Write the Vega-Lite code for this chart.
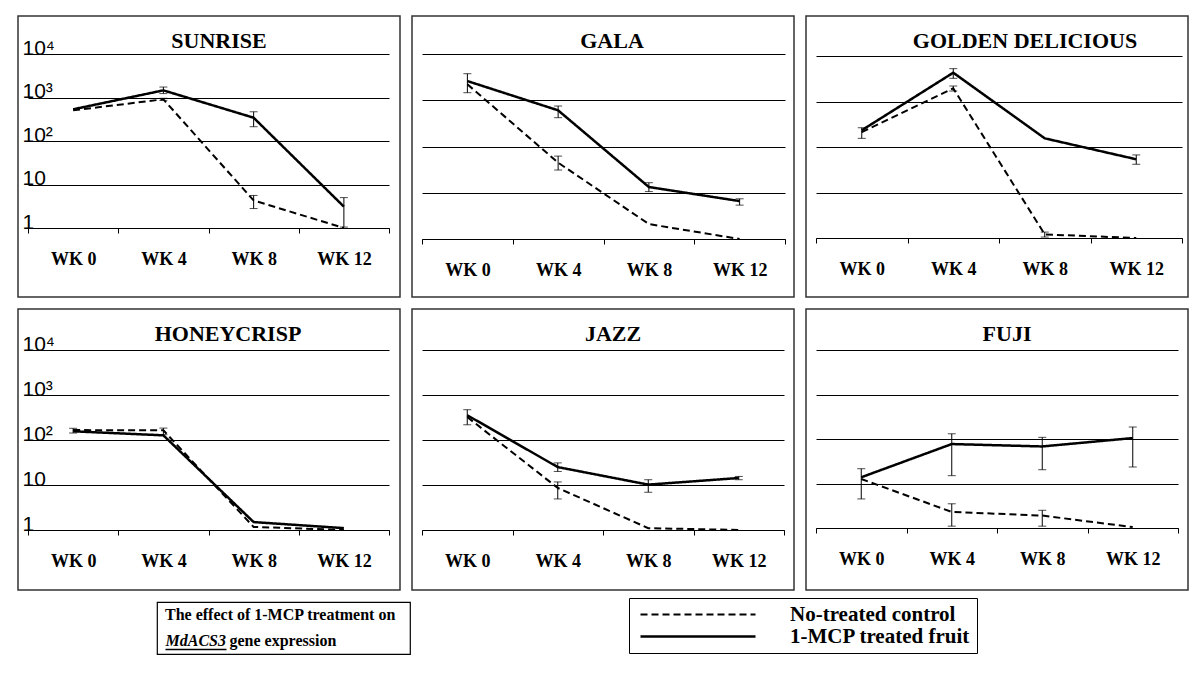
{
  "$schema": "https://vega.github.io/schema/vega-lite/v6.json",
  "padding": {"left": 17, "top": 15, "right": 5, "bottom": 5},
  "background": "white",
  "datasets": {
    "apple": [
      {"cultivar": "SUNRISE", "week": "WK 0", "series": "1-MCP treated fruit", "value": 535, "lo": null, "hi": null},
      {"cultivar": "SUNRISE", "week": "WK 4", "series": "1-MCP treated fruit", "value": 1460, "lo": 1230, "hi": 1740},
      {"cultivar": "SUNRISE", "week": "WK 8", "series": "1-MCP treated fruit", "value": 343, "lo": 213, "hi": 470},
      {"cultivar": "SUNRISE", "week": "WK 12", "series": "1-MCP treated fruit", "value": 3.1, "lo": 1.05, "hi": 5.0},
      {"cultivar": "SUNRISE", "week": "WK 0", "series": "No-treated control", "value": 507, "lo": null, "hi": null},
      {"cultivar": "SUNRISE", "week": "WK 4", "series": "No-treated control", "value": 910, "lo": 860, "hi": 960},
      {"cultivar": "SUNRISE", "week": "WK 8", "series": "No-treated control", "value": 4.3, "lo": 2.8, "hi": 5.6},
      {"cultivar": "SUNRISE", "week": "WK 12", "series": "No-treated control", "value": 1, "lo": null, "hi": null},

      {"cultivar": "GALA", "week": "WK 0", "series": "1-MCP treated fruit", "value": 2600, "lo": 1456, "hi": 3750},
      {"cultivar": "GALA", "week": "WK 4", "series": "1-MCP treated fruit", "value": 605, "lo": 420, "hi": 751},
      {"cultivar": "GALA", "week": "WK 8", "series": "1-MCP treated fruit", "value": 13.3, "lo": 10.6, "hi": 16.5},
      {"cultivar": "GALA", "week": "WK 12", "series": "1-MCP treated fruit", "value": 6.6, "lo": 5.4, "hi": 7.4},
      {"cultivar": "GALA", "week": "WK 0", "series": "No-treated control", "value": 2213, "lo": null, "hi": null},
      {"cultivar": "GALA", "week": "WK 4", "series": "No-treated control", "value": 44.7, "lo": 31, "hi": 62},
      {"cultivar": "GALA", "week": "WK 8", "series": "No-treated control", "value": 2.1, "lo": null, "hi": null},
      {"cultivar": "GALA", "week": "WK 12", "series": "No-treated control", "value": 1, "lo": null, "hi": null},

      {"cultivar": "GOLDEN DELICIOUS", "week": "WK 0", "series": "1-MCP treated fruit", "value": 233, "lo": 155, "hi": 265},
      {"cultivar": "GOLDEN DELICIOUS", "week": "WK 4", "series": "1-MCP treated fruit", "value": 4295, "lo": 3230, "hi": 5270},
      {"cultivar": "GOLDEN DELICIOUS", "week": "WK 8", "series": "1-MCP treated fruit", "value": 155, "lo": null, "hi": null},
      {"cultivar": "GOLDEN DELICIOUS", "week": "WK 12", "series": "1-MCP treated fruit", "value": 53.7, "lo": 41.7, "hi": 67},
      {"cultivar": "GOLDEN DELICIOUS", "week": "WK 0", "series": "No-treated control", "value": 213, "lo": null, "hi": null},
      {"cultivar": "GOLDEN DELICIOUS", "week": "WK 4", "series": "No-treated control", "value": 1950, "lo": 1700, "hi": 2190},
      {"cultivar": "GOLDEN DELICIOUS", "week": "WK 8", "series": "No-treated control", "value": 1.2, "lo": 1.05, "hi": 1.35},
      {"cultivar": "GOLDEN DELICIOUS", "week": "WK 12", "series": "No-treated control", "value": 1, "lo": null, "hi": null},

      {"cultivar": "HONEYCRISP", "week": "WK 0", "series": "1-MCP treated fruit", "value": 156, "lo": null, "hi": null},
      {"cultivar": "HONEYCRISP", "week": "WK 4", "series": "1-MCP treated fruit", "value": 127, "lo": null, "hi": null},
      {"cultivar": "HONEYCRISP", "week": "WK 8", "series": "1-MCP treated fruit", "value": 1.5, "lo": null, "hi": null},
      {"cultivar": "HONEYCRISP", "week": "WK 12", "series": "1-MCP treated fruit", "value": 1.1, "lo": null, "hi": null},
      {"cultivar": "HONEYCRISP", "week": "WK 0", "series": "No-treated control", "value": 166, "lo": 143, "hi": 182},
      {"cultivar": "HONEYCRISP", "week": "WK 4", "series": "No-treated control", "value": 164, "lo": 131, "hi": 184},
      {"cultivar": "HONEYCRISP", "week": "WK 8", "series": "No-treated control", "value": 1.17, "lo": null, "hi": null},
      {"cultivar": "HONEYCRISP", "week": "WK 12", "series": "No-treated control", "value": 1, "lo": null, "hi": null},

      {"cultivar": "JAZZ", "week": "WK 0", "series": "1-MCP treated fruit", "value": 355, "lo": 218, "hi": 471},
      {"cultivar": "JAZZ", "week": "WK 4", "series": "1-MCP treated fruit", "value": 25, "lo": 20, "hi": 31},
      {"cultivar": "JAZZ", "week": "WK 8", "series": "1-MCP treated fruit", "value": 10.2, "lo": 6.9, "hi": 13.1},
      {"cultivar": "JAZZ", "week": "WK 12", "series": "1-MCP treated fruit", "value": 14.3, "lo": 13.1, "hi": 15.5},
      {"cultivar": "JAZZ", "week": "WK 0", "series": "No-treated control", "value": 324, "lo": null, "hi": null},
      {"cultivar": "JAZZ", "week": "WK 4", "series": "No-treated control", "value": 8.6, "lo": 4.9, "hi": 11.7},
      {"cultivar": "JAZZ", "week": "WK 8", "series": "No-treated control", "value": 1.1, "lo": null, "hi": null},
      {"cultivar": "JAZZ", "week": "WK 12", "series": "No-treated control", "value": 1, "lo": null, "hi": null},

      {"cultivar": "FUJI", "week": "WK 0", "series": "1-MCP treated fruit", "value": 13.8, "lo": 4.5, "hi": 21.5},
      {"cultivar": "FUJI", "week": "WK 4", "series": "1-MCP treated fruit", "value": 77, "lo": 15, "hi": 131},
      {"cultivar": "FUJI", "week": "WK 8", "series": "1-MCP treated fruit", "value": 68, "lo": 20.4, "hi": 109},
      {"cultivar": "FUJI", "week": "WK 12", "series": "1-MCP treated fruit", "value": 105, "lo": 23.5, "hi": 186},
      {"cultivar": "FUJI", "week": "WK 0", "series": "No-treated control", "value": 12.6, "lo": null, "hi": null},
      {"cultivar": "FUJI", "week": "WK 4", "series": "No-treated control", "value": 2.3, "lo": 1.1, "hi": 3.5},
      {"cultivar": "FUJI", "week": "WK 8", "series": "No-treated control", "value": 1.9, "lo": 1.1, "hi": 2.5},
      {"cultivar": "FUJI", "week": "WK 12", "series": "No-treated control", "value": 1.05, "lo": null, "hi": null}
    ]
  },
  "data": {"name": "apple"},
  "spacing": 10,
  "resolve": {"scale": {"x": "independent", "y": "independent"}},
  "vconcat": [
    {
      "spacing": 10,
      "resolve": {"scale": {"x": "independent", "y": "independent"}},
      "hconcat": [
        {
          "width": 382, "height": 281,
          "title": {"text": "SUNRISE", "dx": 10},
          "transform": [{"filter": "datum.cultivar === 'SUNRISE'"}],
          "layer": [
            {
              "transform": [{"filter": "datum.lo != null"}],
              "mark": {"type": "errorbar", "ticks": true, "size": 8, "thickness": 1, "color": "black"},
              "encoding": {
                "x": {"field": "week", "type": "nominal", "sort": ["WK 0", "WK 4", "WK 8", "WK 12"], "scale": {"type": "band", "range": [10, 371], "paddingInner": 0, "paddingOuter": 0}},
                "y": {"field": "lo", "type": "quantitative", "scale": {"type": "log", "domain": [1, 10000], "range": [212, 38], "nice": false}},
                "y2": {"field": "hi"}
              }
            },
            {
              "mark": {"type": "line", "color": "black"},
              "encoding": {
                "x": {"field": "week", "type": "nominal", "sort": ["WK 0", "WK 4", "WK 8", "WK 12"], "scale": {"type": "band", "range": [10, 371], "paddingInner": 0, "paddingOuter": 0}, "axis": {"offset": -69, "title": null}},
                "y": {"field": "value", "type": "quantitative", "scale": {"type": "log", "domain": [1, 10000], "range": [212, 38], "nice": false}, "axis": {"title": null, "values": [1, 10, 100, 1000, 10000], "labels": true, "labelExpr": "datum.value >= 10000 ? '10⁴' : datum.value >= 1000 ? '10³' : datum.value >= 100 ? '10²' : datum.value >= 10 ? '10' : '1'"}},
                "strokeDash": {"field": "series", "type": "nominal", "title": null, "scale": {"domain": ["No-treated control", "1-MCP treated fruit"], "range": [[7, 4], [1, 0]]},
                  "legend": {"orient": "none", "legendX": 611, "legendY": 582, "title": null, "symbolType": "M-1,0H22", "symbolSize": 100, "symbolStrokeWidth": 2.5, "symbolStrokeColor": "black", "strokeColor": "black", "padding": 6, "labelFont": "Liberation Serif", "labelFontWeight": "bold", "labelFontSize": 21, "labelColor": "black", "labelOffset": 134, "labelLimit": 400, "rowPadding": 0}},
                "strokeWidth": {"field": "series", "type": "nominal", "scale": {"domain": ["No-treated control", "1-MCP treated fruit"], "range": [2, 2.5]}, "legend": null}
              }
            }
          ]
        },
        {
          "width": 382, "height": 281,
          "title": {"text": "GALA", "dx": 9},
          "transform": [{"filter": "datum.cultivar === 'GALA'"}],
          "layer": [
            {
              "transform": [{"filter": "datum.lo != null"}],
              "mark": {"type": "errorbar", "ticks": true, "size": 8, "thickness": 1, "color": "black"},
              "encoding": {
                "x": {"field": "week", "type": "nominal", "sort": ["WK 0", "WK 4", "WK 8", "WK 12"], "scale": {"type": "band", "range": [10, 373], "paddingInner": 0, "paddingOuter": 0}},
                "y": {"field": "lo", "type": "quantitative", "scale": {"type": "log", "domain": [1, 10000], "range": [223, 38], "nice": false}},
                "y2": {"field": "hi"}
              }
            },
            {
              "mark": {"type": "line", "color": "black"},
              "encoding": {
                "x": {"field": "week", "type": "nominal", "sort": ["WK 0", "WK 4", "WK 8", "WK 12"], "scale": {"type": "band", "range": [10, 373], "paddingInner": 0, "paddingOuter": 0}, "axis": {"offset": -58, "title": null}},
                "y": {"field": "value", "type": "quantitative", "scale": {"type": "log", "domain": [1, 10000], "range": [223, 38], "nice": false}, "axis": {"title": null, "values": [1, 10, 100, 1000, 10000], "labels": false}},
                "strokeDash": {"field": "series", "type": "nominal", "title": null, "scale": {"domain": ["No-treated control", "1-MCP treated fruit"], "range": [[7, 4], [1, 0]]}, "legend": null},
                "strokeWidth": {"field": "series", "type": "nominal", "scale": {"domain": ["No-treated control", "1-MCP treated fruit"], "range": [2, 2.5]}, "legend": null}
              }
            }
          ]
        },
        {
          "width": 382, "height": 281,
          "title": {"text": "GOLDEN DELICIOUS", "dx": 28},
          "transform": [{"filter": "datum.cultivar === 'GOLDEN DELICIOUS'"}],
          "layer": [
            {
              "transform": [{"filter": "datum.lo != null"}],
              "mark": {"type": "errorbar", "ticks": true, "size": 8, "thickness": 1, "color": "black"},
              "encoding": {
                "x": {"field": "week", "type": "nominal", "sort": ["WK 0", "WK 4", "WK 8", "WK 12"], "scale": {"type": "band", "range": [10, 376], "paddingInner": 0, "paddingOuter": 0}},
                "y": {"field": "lo", "type": "quantitative", "scale": {"type": "log", "domain": [1, 10000], "range": [222, 40], "nice": false}},
                "y2": {"field": "hi"}
              }
            },
            {
              "mark": {"type": "line", "color": "black"},
              "encoding": {
                "x": {"field": "week", "type": "nominal", "sort": ["WK 0", "WK 4", "WK 8", "WK 12"], "scale": {"type": "band", "range": [10, 376], "paddingInner": 0, "paddingOuter": 0}, "axis": {"offset": -59, "title": null}},
                "y": {"field": "value", "type": "quantitative", "scale": {"type": "log", "domain": [1, 10000], "range": [222, 40], "nice": false}, "axis": {"title": null, "values": [1, 10, 100, 1000, 10000], "labels": false}},
                "strokeDash": {"field": "series", "type": "nominal", "title": null, "scale": {"domain": ["No-treated control", "1-MCP treated fruit"], "range": [[7, 4], [1, 0]]}, "legend": null},
                "strokeWidth": {"field": "series", "type": "nominal", "scale": {"domain": ["No-treated control", "1-MCP treated fruit"], "range": [2, 2.5]}, "legend": null}
              }
            }
          ]
        }
      ]
    },
    {
      "spacing": 10,
      "resolve": {"scale": {"x": "independent", "y": "independent"}},
      "hconcat": [
        {
          "width": 382, "height": 281,
          "title": {"text": "HONEYCRISP", "dx": 19},
          "transform": [{"filter": "datum.cultivar === 'HONEYCRISP'"}],
          "layer": [
            {
              "transform": [{"filter": "datum.lo != null"}],
              "mark": {"type": "errorbar", "ticks": true, "size": 8, "thickness": 1, "color": "black"},
              "encoding": {
                "x": {"field": "week", "type": "nominal", "sort": ["WK 0", "WK 4", "WK 8", "WK 12"], "scale": {"type": "band", "range": [10, 371], "paddingInner": 0, "paddingOuter": 0}},
                "y": {"field": "lo", "type": "quantitative", "scale": {"type": "log", "domain": [1, 10000], "range": [221, 41], "nice": false}},
                "y2": {"field": "hi"}
              }
            },
            {
              "mark": {"type": "line", "color": "black"},
              "encoding": {
                "x": {"field": "week", "type": "nominal", "sort": ["WK 0", "WK 4", "WK 8", "WK 12"], "scale": {"type": "band", "range": [10, 371], "paddingInner": 0, "paddingOuter": 0}, "axis": {"offset": -60, "title": null}},
                "y": {"field": "value", "type": "quantitative", "scale": {"type": "log", "domain": [1, 10000], "range": [221, 41], "nice": false}, "axis": {"title": null, "values": [1, 10, 100, 1000, 10000], "labels": true, "labelExpr": "datum.value >= 10000 ? '10⁴' : datum.value >= 1000 ? '10³' : datum.value >= 100 ? '10²' : datum.value >= 10 ? '10' : '1'"}},
                "strokeDash": {"field": "series", "type": "nominal", "title": null, "scale": {"domain": ["No-treated control", "1-MCP treated fruit"], "range": [[7, 4], [1, 0]]}, "legend": null},
                "strokeWidth": {"field": "series", "type": "nominal", "scale": {"domain": ["No-treated control", "1-MCP treated fruit"], "range": [2, 2.5]}, "legend": null}
              }
            }
          ]
        },
        {
          "width": 382, "height": 281,
          "title": {"text": "JAZZ", "dx": 10},
          "transform": [{"filter": "datum.cultivar === 'JAZZ'"}],
          "layer": [
            {
              "transform": [{"filter": "datum.lo != null"}],
              "mark": {"type": "errorbar", "ticks": true, "size": 8, "thickness": 1, "color": "black"},
              "encoding": {
                "x": {"field": "week", "type": "nominal", "sort": ["WK 0", "WK 4", "WK 8", "WK 12"], "scale": {"type": "band", "range": [10, 372], "paddingInner": 0, "paddingOuter": 0}},
                "y": {"field": "lo", "type": "quantitative", "scale": {"type": "log", "domain": [1, 10000], "range": [221, 41], "nice": false}},
                "y2": {"field": "hi"}
              }
            },
            {
              "mark": {"type": "line", "color": "black"},
              "encoding": {
                "x": {"field": "week", "type": "nominal", "sort": ["WK 0", "WK 4", "WK 8", "WK 12"], "scale": {"type": "band", "range": [10, 372], "paddingInner": 0, "paddingOuter": 0}, "axis": {"offset": -60, "title": null}},
                "y": {"field": "value", "type": "quantitative", "scale": {"type": "log", "domain": [1, 10000], "range": [221, 41], "nice": false}, "axis": {"title": null, "values": [1, 10, 100, 1000, 10000], "labels": false}},
                "strokeDash": {"field": "series", "type": "nominal", "title": null, "scale": {"domain": ["No-treated control", "1-MCP treated fruit"], "range": [[7, 4], [1, 0]]}, "legend": null},
                "strokeWidth": {"field": "series", "type": "nominal", "scale": {"domain": ["No-treated control", "1-MCP treated fruit"], "range": [2, 2.5]}, "legend": null}
              }
            }
          ]
        },
        {
          "width": 382, "height": 281,
          "title": {"text": "FUJI", "dx": 10},
          "transform": [{"filter": "datum.cultivar === 'FUJI'"}],
          "layer": [
            {
              "transform": [{"filter": "datum.lo != null"}],
              "mark": {"type": "errorbar", "ticks": true, "size": 8, "thickness": 1, "color": "black"},
              "encoding": {
                "x": {"field": "week", "type": "nominal", "sort": ["WK 0", "WK 4", "WK 8", "WK 12"], "scale": {"type": "band", "range": [10, 372], "paddingInner": 0, "paddingOuter": 0}},
                "y": {"field": "lo", "type": "quantitative", "scale": {"type": "log", "domain": [1, 10000], "range": [219, 41], "nice": false}},
                "y2": {"field": "hi"}
              }
            },
            {
              "mark": {"type": "line", "color": "black"},
              "encoding": {
                "x": {"field": "week", "type": "nominal", "sort": ["WK 0", "WK 4", "WK 8", "WK 12"], "scale": {"type": "band", "range": [10, 372], "paddingInner": 0, "paddingOuter": 0}, "axis": {"offset": -62, "title": null}},
                "y": {"field": "value", "type": "quantitative", "scale": {"type": "log", "domain": [1, 10000], "range": [219, 41], "nice": false}, "axis": {"title": null, "values": [1, 10, 100, 1000, 10000], "labels": false}},
                "strokeDash": {"field": "series", "type": "nominal", "title": null, "scale": {"domain": ["No-treated control", "1-MCP treated fruit"], "range": [[7, 4], [1, 0]]}, "legend": null},
                "strokeWidth": {"field": "series", "type": "nominal", "scale": {"domain": ["No-treated control", "1-MCP treated fruit"], "range": [2, 2.5]}, "legend": null}
              }
            }
          ]
        }
      ]
    },
    {
      "spacing": 0,
      "hconcat": [
        {
          "width": 138, "height": 52,
          "view": {"stroke": null},
          "data": {"values": [{"note": "spacer"}]},
          "mark": {"type": "point", "opacity": 0},
          "encoding": {"x": {"field": "note", "type": "nominal", "axis": null}}
        },
        {
          "width": 253, "height": 52,
          "view": {"stroke": "black", "strokeWidth": 1.2},
          "data": {"values": [{"note": "caption"}]},
          "mark": {"type": "point", "opacity": 0},
          "encoding": {
            "x": {"field": "note", "type": "nominal", "scale": {"range": [8, 69]},
              "axis": {"orient": "bottom", "offset": -5, "domain": true, "domainColor": "black", "domainWidth": 1.5, "ticks": false, "labels": false, "grid": false,
                "title": "MdACS3", "titleFont": "Liberation Serif", "titleFontStyle": "italic", "titleFontWeight": "bold", "titleFontSize": 16, "titleColor": "black", "titleAlign": "left", "titleBaseline": "alphabetic", "titleX": 8, "titleY": -4}},
            "y": {"field": "note", "type": "nominal",
              "axis": {"orient": "left", "domain": false, "ticks": false, "labels": false, "grid": false,
                "title": "gene expression", "titleAngle": 0, "titleFont": "Liberation Serif", "titleFontWeight": "bold", "titleFontSize": 16, "titleColor": "black", "titleAlign": "left", "titleBaseline": "alphabetic", "titleX": 72, "titleY": 43}}
          },
          "title": {"text": "The effect of 1-MCP treatment on", "anchor": "start", "frame": "group", "offset": -21, "dx": 8, "fontSize": 16}
        }
      ]
    }
  ],
  "config": {
    "view": {"stroke": "#333", "strokeWidth": 1.5},
    "title": {"font": "Liberation Serif", "fontWeight": "bold", "fontSize": 22, "color": "black", "anchor": "middle", "frame": "group", "offset": -37},
    "axisX": {"domainColor": "black", "domainWidth": 1, "tickColor": "black", "tickSize": 5, "tickWidth": 1, "tickBand": "extent", "labelFont": "Liberation Serif", "labelFontWeight": "bold", "labelFontSize": 18, "labelColor": "black", "labelPadding": 17, "labelAngle": 0, "grid": false},
    "axisY": {"domain": false, "ticks": false, "grid": true, "gridColor": "black", "gridOpacity": 1, "gridWidth": 1, "labelFont": "Liberation Sans", "labelFontSize": 21, "labelColor": "black", "labelAlign": "left", "labelBaseline": "alphabetic", "labelPadding": -4}
  }
}
